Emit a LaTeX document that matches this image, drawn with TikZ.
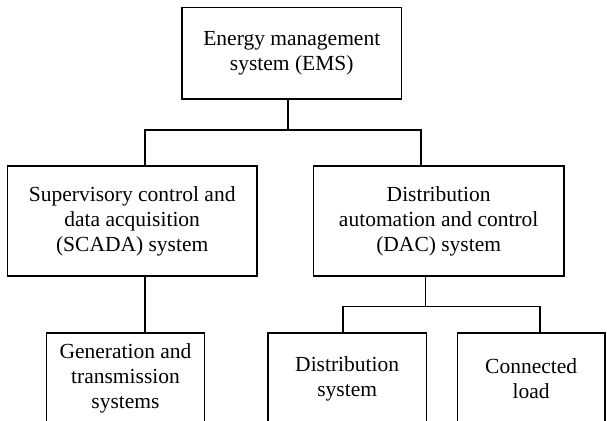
\documentclass[tikz,border=0pt]{standalone}
\usepackage{fontspec}
\setmainfont{Liberation Serif}
\begin{document}
\begin{tikzpicture}[x=1pt,y=-1pt,
  box/.style={draw, line width=1.2pt, inner sep=0pt, align=center,
    font=\fontsize{21.5}{25}\selectfont, minimum height=#1},
  box/.default=110pt,
  conn/.style={line width=1.2pt}]
\useasboundingbox (0,0) rectangle (607,420);
\node[box=91.7pt, minimum width=219.7pt] (ems) at (291.8,53.2) {Energy management\\system (EMS)};
\node[box, minimum width=249.7pt] (scada) at (132.2,221) {Supervisory control and\\data acquisition\\(SCADA) system};
\node[box, minimum width=250.7pt] (dac) at (438.7,221) {Distribution\\automation and control\\(DAC) system};
\node[box=91pt, minimum width=158pt] (gen) at (125.5,378.5) {Generation and\\transmission\\systems};
\node[box=91pt, minimum width=158.5pt] (dist) at (347.2,378.5) {Distribution\\system};
\node[box=91pt, minimum width=147.5pt] (load) at (531.2,378.5) {Connected\\load};
\coordinate (j1) at (288,130);
\coordinate (j1l) at (145,130);
\coordinate (j1r) at (421,130);
\coordinate (j2) at (425.7,306.7);
\coordinate (j2l) at (343,306.7);
\coordinate (j2r) at (540,306.7);
\draw[conn] (ems.south -| j1) -- (j1);
\draw[conn] (scada.north -| j1l) -- (j1l) -- (j1r) -- (dac.north -| j1r);
\draw[conn] (scada.south -| j1l) -- (gen.north -| j1l);
\draw[conn] (dac.south -| j2) -- (j2);
\draw[conn] (dist.north -| j2l) -- (j2l) -- (j2r) -- (load.north -| j2r);
\end{tikzpicture}
\end{document}
